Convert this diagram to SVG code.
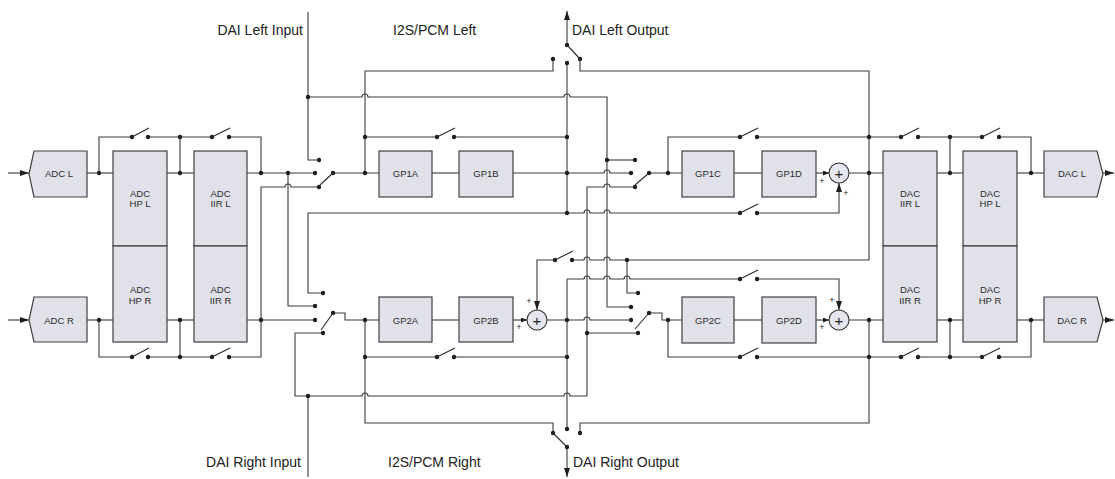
<svg xmlns="http://www.w3.org/2000/svg" width="1115" height="479" viewBox="0 0 1115 479">
<defs>
<style>
.w{fill:none;stroke:#3a3a3a;stroke-width:1.1}
.b{fill:#e1e1e9;stroke:#404040;stroke-width:1.2}
.d{fill:#1e1e1e}
.arm{stroke:#2a2a2a;stroke-width:1.1;fill:none}
.t{font-family:"Liberation Sans",Arial,sans-serif;font-size:9.5px;fill:#2a2a2a;text-anchor:middle}
.lb{font-family:"Liberation Sans",Arial,sans-serif;font-size:14px;fill:#222}
.p{font-family:"Liberation Sans",Arial,sans-serif;font-size:9px;fill:#222;text-anchor:middle}
.pl{font-family:"Liberation Sans",Arial,sans-serif;font-size:15px;fill:#222;text-anchor:middle}
.sum{fill:#e6e6ee;stroke:#333;stroke-width:1.1}
</style>
<marker id="ah" viewBox="0 0 9 6" refX="9" refY="3" markerWidth="9" markerHeight="6" markerUnits="userSpaceOnUse" orient="auto"><path d="M0,0L9,3L0,6z" fill="#1e1e1e"/></marker>
<marker id="as" viewBox="0 0 6 5" refX="6" refY="2.5" markerWidth="6" markerHeight="5" markerUnits="userSpaceOnUse" orient="auto"><path d="M0,0L6,2.5L0,5z" fill="#1e1e1e"/></marker>
</defs>
<rect width="1115" height="479" fill="#ffffff"/>

<g id="connectors" class="w">
<path d="M8,173H29" marker-end="url(#ah)"/>
<path d="M8,320H29" marker-end="url(#ah)"/>
<path d="M87,173H113"/>
<path d="M99,173V137H132"/>
<path d="M148,137H212"/>
<path d="M229,137H261V173"/>
<path d="M180,137V173"/>
<path d="M167,173H194"/>
<path d="M247,173H315"/>
<path d="M87,320H113"/>
<path d="M99,320V357H132"/>
<path d="M148,357H212"/>
<path d="M229,357H261V187H285a3,3 0 0 1 6,0H319"/>
<path d="M180,320V357"/>
<path d="M167,320H194"/>
<path d="M247,320H315"/>
<path d="M288,173V306H315"/>
<path d="M308,12V160H319"/>
<path d="M308,97H362a3,3 0 0 1 6,0H564a3,3 0 0 1 6,0H607V307H631"/>
<path d="M607,160H635"/>
<path d="M323,293H308V213H584a3,3 0 0 1 6,0H604a3,3 0 0 1 6,0H740"/>
<path d="M757,213H839V183" marker-end="url(#ah)"/>
<path d="M567,63V213"/>
<path d="M333,173H379"/>
<path d="M365,173V71H553V59"/>
<path d="M365,137H437"/>
<path d="M454,137H567"/>
<path d="M432,173H459"/>
<path d="M513,173H604a3,3 0 0 1 6,0H631"/>
<path d="M567,45V11" marker-end="url(#ah)"/>
<path d="M580,59V71H869V260"/>
<path d="M572,260H584a3,3 0 0 1 6,0H604a3,3 0 0 1 6,0H869"/>
<path d="M555,260H537V310" marker-end="url(#ah)"/>
<path d="M627,260V293H638"/>
<path d="M567,279V429"/>
<path d="M567,279H584a3,3 0 0 1 6,0H604a3,3 0 0 1 6,0H624a3,3 0 0 1 6,0H740"/>
<path d="M757,279H839V310" marker-end="url(#ah)"/>
<path d="M649,173H682"/>
<path d="M668,173V137H740"/>
<path d="M757,137H901"/>
<path d="M918,137H982"/>
<path d="M999,137H1031V173"/>
<path d="M734,173H762"/>
<path d="M816,173H829" marker-end="url(#as)"/>
<path d="M849,173H883"/>
<path d="M937,173H963"/>
<path d="M950,137V173"/>
<path d="M1017,173H1044"/>
<path d="M1103,173H1114" marker-end="url(#ah)"/>
<path d="M587,396V187H604a3,3 0 0 1 6,0H635"/>
<path d="M587,333H638"/>
<path d="M323,333H295V396H362a3,3 0 0 1 6,0H564a3,3 0 0 1 6,0H587"/>
<path d="M308,396V477"/>
<path d="M333,313H345V320H379"/>
<path d="M365,320V423H553V433"/>
<path d="M365,357H437"/>
<path d="M454,357H567"/>
<path d="M432,320H459"/>
<path d="M513,320H527" marker-end="url(#as)"/>
<path d="M547,320H584a3,3 0 0 1 6,0H631"/>
<path d="M567,447V477" marker-end="url(#ah)"/>
<path d="M580,433V423H869V320"/>
<path d="M649,313H662V320H682"/>
<path d="M668,320V357H740"/>
<path d="M757,357H901"/>
<path d="M918,357H982"/>
<path d="M999,357H1031V320"/>
<path d="M734,320H762"/>
<path d="M816,320H829" marker-end="url(#as)"/>
<path d="M849,320H883"/>
<path d="M937,320H963"/>
<path d="M950,320V357"/>
<path d="M1017,320H1044"/>
<path d="M1103,320H1114" marker-end="url(#ah)"/>
</g>

<g id="junctions" class="d">
<circle cx="99" cy="173" r="2.2"/><circle cx="180" cy="137" r="2.2"/><circle cx="180" cy="173" r="2.2"/>
<circle cx="261" cy="173" r="2.2"/><circle cx="288" cy="173" r="2.2"/>
<circle cx="99" cy="320" r="2.2"/><circle cx="180" cy="320" r="2.2"/><circle cx="180" cy="357" r="2.2"/>
<circle cx="261" cy="320" r="2.2"/>
<circle cx="308" cy="97" r="2.2"/><circle cx="365" cy="173" r="2.2"/><circle cx="365" cy="137" r="2.2"/>
<circle cx="567" cy="137" r="2.2"/><circle cx="567" cy="173" r="2.2"/><circle cx="567" cy="213" r="2.2"/>
<circle cx="607" cy="160" r="2.2"/><circle cx="668" cy="173" r="2.2"/>
<circle cx="869" cy="137" r="2.2"/><circle cx="869" cy="173" r="2.2"/>
<circle cx="950" cy="137" r="2.2"/><circle cx="950" cy="173" r="2.2"/><circle cx="1031" cy="173" r="2.2"/>
<circle cx="627" cy="260" r="2.2"/><circle cx="587" cy="333" r="2.2"/>
<circle cx="365" cy="320" r="2.2"/><circle cx="365" cy="357" r="2.2"/>
<circle cx="567" cy="320" r="2.2"/><circle cx="567" cy="357" r="2.2"/><circle cx="308" cy="396" r="2.2"/>
<circle cx="668" cy="320" r="2.2"/><circle cx="869" cy="320" r="2.2"/><circle cx="869" cy="357" r="2.2"/>
<circle cx="950" cy="320" r="2.2"/><circle cx="950" cy="357" r="2.2"/><circle cx="1031" cy="320" r="2.2"/>
</g>

<g id="sw-adc-hp-l"><circle class="d" cx="132" cy="137" r="2.2"/><circle class="d" cx="148" cy="137" r="2.2"/><line class="arm" x1="132" y1="137" x2="149" y2="128"/></g>
<g id="sw-adc-iir-l"><circle class="d" cx="212" cy="137" r="2.2"/><circle class="d" cx="229" cy="137" r="2.2"/><line class="arm" x1="212" y1="137" x2="230" y2="128"/></g>
<g id="sw-adc-hp-r"><circle class="d" cx="132" cy="357" r="2.2"/><circle class="d" cx="148" cy="357" r="2.2"/><line class="arm" x1="132" y1="357" x2="149" y2="348"/></g>
<g id="sw-adc-iir-r"><circle class="d" cx="212" cy="357" r="2.2"/><circle class="d" cx="229" cy="357" r="2.2"/><line class="arm" x1="212" y1="357" x2="230" y2="348"/></g>
<g id="sw-gp1ab"><circle class="d" cx="437" cy="137" r="2.2"/><circle class="d" cx="454" cy="137" r="2.2"/><line class="arm" x1="437" y1="137" x2="455" y2="128"/></g>
<g id="sw-gp2ab"><circle class="d" cx="437" cy="357" r="2.2"/><circle class="d" cx="454" cy="357" r="2.2"/><line class="arm" x1="437" y1="357" x2="455" y2="348"/></g>
<g id="sw-mix-r"><circle class="d" cx="555" cy="260" r="2.2"/><circle class="d" cx="572" cy="260" r="2.2"/><line class="arm" x1="555" y1="260" x2="573" y2="251"/></g>
<g id="sw-gp1cd"><circle class="d" cx="740" cy="137" r="2.2"/><circle class="d" cx="757" cy="137" r="2.2"/><line class="arm" x1="740" y1="137" x2="758" y2="128"/></g>
<g id="sw-mix-l2"><circle class="d" cx="740" cy="213" r="2.2"/><circle class="d" cx="757" cy="213" r="2.2"/><line class="arm" x1="740" y1="213" x2="758" y2="204"/></g>
<g id="sw-mix-r2"><circle class="d" cx="740" cy="279" r="2.2"/><circle class="d" cx="757" cy="279" r="2.2"/><line class="arm" x1="740" y1="279" x2="758" y2="270"/></g>
<g id="sw-gp2cd"><circle class="d" cx="740" cy="357" r="2.2"/><circle class="d" cx="757" cy="357" r="2.2"/><line class="arm" x1="740" y1="357" x2="758" y2="348"/></g>
<g id="sw-dac-iir-l"><circle class="d" cx="901" cy="137" r="2.2"/><circle class="d" cx="918" cy="137" r="2.2"/><line class="arm" x1="901" y1="137" x2="919" y2="128"/></g>
<g id="sw-dac-hp-l"><circle class="d" cx="982" cy="137" r="2.2"/><circle class="d" cx="999" cy="137" r="2.2"/><line class="arm" x1="982" y1="137" x2="1000" y2="128"/></g>
<g id="sw-dac-iir-r"><circle class="d" cx="901" cy="357" r="2.2"/><circle class="d" cx="918" cy="357" r="2.2"/><line class="arm" x1="901" y1="357" x2="919" y2="348"/></g>
<g id="sw-dac-hp-r"><circle class="d" cx="982" cy="357" r="2.2"/><circle class="d" cx="999" cy="357" r="2.2"/><line class="arm" x1="982" y1="357" x2="1000" y2="348"/></g>

<g id="sel-l-in"><circle class="d" cx="319" cy="160" r="2.2"/><circle class="d" cx="315" cy="173" r="2.2"/><circle class="d" cx="319" cy="187" r="2.2"/><circle class="d" cx="333" cy="173" r="2.2"/><line class="arm" x1="333" y1="173" x2="320" y2="185"/></g>
<g id="sel-r-in"><circle class="d" cx="323" cy="293" r="2.2"/><circle class="d" cx="315" cy="306" r="2.2"/><circle class="d" cx="315" cy="320" r="2.2"/><circle class="d" cx="323" cy="333" r="2.2"/><circle class="d" cx="333" cy="313" r="2.2"/><line class="arm" x1="333" y1="313" x2="321" y2="330"/></g>
<g id="sel-gp1c"><circle class="d" cx="635" cy="160" r="2.2"/><circle class="d" cx="631" cy="173" r="2.2"/><circle class="d" cx="635" cy="187" r="2.2"/><circle class="d" cx="649" cy="173" r="2.2"/><line class="arm" x1="649" y1="173" x2="635" y2="185"/></g>
<g id="sel-gp2c"><circle class="d" cx="638" cy="293" r="2.2"/><circle class="d" cx="631" cy="307" r="2.2"/><circle class="d" cx="631" cy="320" r="2.2"/><circle class="d" cx="638" cy="333" r="2.2"/><circle class="d" cx="649" cy="313" r="2.2"/><line class="arm" x1="649" y1="313" x2="635" y2="329"/></g>
<g id="sel-dai-l-out"><circle class="d" cx="553" cy="59" r="2.2"/><circle class="d" cx="567" cy="63" r="2.2"/><circle class="d" cx="580" cy="59" r="2.2"/><circle class="d" cx="567" cy="45" r="2.2"/><line class="arm" x1="567" y1="45" x2="581" y2="60"/></g>
<g id="sel-dai-r-out"><circle class="d" cx="553" cy="433" r="2.2"/><circle class="d" cx="567" cy="429" r="2.2"/><circle class="d" cx="580" cy="433" r="2.2"/><circle class="d" cx="567" cy="447" r="2.2"/><line class="arm" x1="567" y1="447" x2="552" y2="432"/></g>

<g id="adc-l"><path class="b" d="M34,151H87V197H34L29,174Z"/><text class="t" x="59" y="176.5">ADC L</text></g>
<g id="adc-r"><path class="b" d="M34,297H87V342H34L29,320Z"/><text class="t" x="59" y="323.5">ADC R</text></g>
<g id="adc-hp-l"><rect class="b" x="113" y="151" width="54" height="95"/><text class="t" x="140" y="196.5">ADC</text><text class="t" x="140" y="207">HP L</text></g>
<g id="adc-hp-r"><rect class="b" x="113" y="246" width="54" height="96"/><text class="t" x="140" y="292.5">ADC</text><text class="t" x="140" y="303.5">HP R</text></g>
<g id="adc-iir-l"><rect class="b" x="194" y="151" width="53" height="95"/><text class="t" x="220.5" y="196.5">ADC</text><text class="t" x="220.5" y="207">IIR L</text></g>
<g id="adc-iir-r"><rect class="b" x="194" y="246" width="53" height="96"/><text class="t" x="220.5" y="292.5">ADC</text><text class="t" x="220.5" y="303.5">IIR R</text></g>
<g id="gp1a"><rect class="b" x="379" y="151" width="53" height="46"/><text class="t" x="405.5" y="176.5">GP1A</text></g>
<g id="gp1b"><rect class="b" x="459" y="151" width="54" height="46"/><text class="t" x="486" y="176.5">GP1B</text></g>
<g id="gp2a"><rect class="b" x="379" y="297" width="53" height="45"/><text class="t" x="405.5" y="323.5">GP2A</text></g>
<g id="gp2b"><rect class="b" x="459" y="297" width="54" height="45"/><text class="t" x="486" y="323.5">GP2B</text></g>
<g id="gp1c"><rect class="b" x="682" y="151" width="52" height="46"/><text class="t" x="708" y="176.5">GP1C</text></g>
<g id="gp1d"><rect class="b" x="762" y="151" width="54" height="46"/><text class="t" x="789" y="176.5">GP1D</text></g>
<g id="gp2c"><rect class="b" x="682" y="297" width="52" height="46"/><text class="t" x="708" y="323.5">GP2C</text></g>
<g id="gp2d"><rect class="b" x="762" y="297" width="54" height="46"/><text class="t" x="789" y="323.5">GP2D</text></g>
<g id="dac-iir-l"><rect class="b" x="883" y="151" width="54" height="95"/><text class="t" x="910" y="196.5">DAC</text><text class="t" x="910" y="207">IIR L</text></g>
<g id="dac-iir-r"><rect class="b" x="883" y="246" width="54" height="96"/><text class="t" x="910" y="292.5">DAC</text><text class="t" x="910" y="303.5">IIR R</text></g>
<g id="dac-hp-l"><rect class="b" x="963" y="151" width="54" height="95"/><text class="t" x="990" y="196.5">DAC</text><text class="t" x="990" y="207">HP L</text></g>
<g id="dac-hp-r"><rect class="b" x="963" y="246" width="54" height="96"/><text class="t" x="990" y="292.5">DAC</text><text class="t" x="990" y="303.5">HP R</text></g>
<g id="dac-l"><path class="b" d="M1044,151H1097L1103,174L1097,197H1044Z"/><text class="t" x="1072" y="176.5">DAC L</text></g>
<g id="dac-r"><path class="b" d="M1044,297H1097L1103,320L1097,342H1044Z"/><text class="t" x="1072" y="323.5">DAC R</text></g>

<g id="sum-1"><circle class="sum" cx="839" cy="173" r="10"/><text class="pl" x="839" y="178.5">+</text><text class="p" x="822" y="184">+</text><text class="p" x="846" y="196">+</text></g>
<g id="sum-2"><circle class="sum" cx="537" cy="320" r="10"/><text class="pl" x="537" y="325.5">+</text><text class="p" x="529" y="304">+</text><text class="p" x="519" y="330">+</text></g>
<g id="sum-3"><circle class="sum" cx="839" cy="320" r="10"/><text class="pl" x="839" y="325.5">+</text><text class="p" x="832" y="303">+</text><text class="p" x="822" y="330">+</text></g>

<g id="labels">
<text class="lb" x="303" y="35" text-anchor="end">DAI Left Input</text>
<text class="lb" x="393" y="35">I2S/PCM Left</text>
<text class="lb" x="572" y="35">DAI Left Output</text>
<text class="lb" x="301" y="467" text-anchor="end">DAI Right Input</text>
<text class="lb" x="388" y="467">I2S/PCM Right</text>
<text class="lb" x="573" y="467">DAI Right Output</text>
</g>
</svg>
